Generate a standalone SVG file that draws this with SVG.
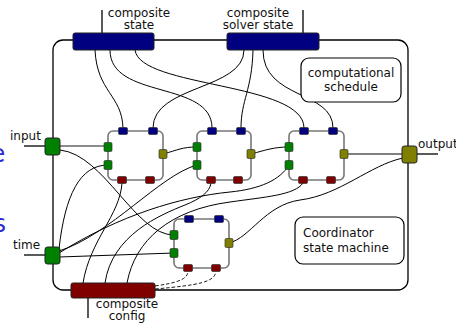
<svg xmlns="http://www.w3.org/2000/svg" width="456" height="329" viewBox="0 0 456 329">
  <style>
    text { font-family: "DejaVu Sans", "Liberation Sans", sans-serif; font-size: 12px; fill: #111; }
    .mid { text-anchor: middle; }
    .side { font-size: 24px; fill: #2b2bd0; }
    .frame { fill: none; stroke: #000; stroke-width: 1.3; }
    .wire { fill: none; stroke: #000; stroke-width: 1; }
    .gwire { fill: none; stroke: #666; stroke-width: 1.4; }
    .dash { fill: none; stroke: #000; stroke-width: 0.9; stroke-dasharray: 3.5 2; }
    .tick { stroke: #000; stroke-width: 1.3; }
    .block { fill: none; stroke: #777; stroke-width: 1.6; }
    .box { stroke: #222; stroke-width: 1; }
    .port { stroke: #333; stroke-width: 0.7; }
    .navy { fill: #000080; }
    .grn { fill: #008000; }
    .olv { fill: #808000; }
    .mar { fill: #800000; }
    .note { fill: #fff; stroke: #000; stroke-width: 1.2; }
  </style>
  <defs>
    <rect id="ph" class="port" x="-4.5" y="-3.5" width="9" height="7" rx="1.3"/>
    <rect id="pv" class="port" x="-4" y="-4.5" width="8" height="9" rx="1.3"/>
  </defs>

  <!-- clipped side text at the left border -->
  <text class="side" x="-9.5" y="162">e</text>
  <text class="side" x="-6.5" y="232">s</text>

  <!-- coordinator frame -->
  <rect class="frame" x="53" y="40" width="355" height="250" rx="10"/>

  <!-- external leads -->
  <line class="tick" x1="102" y1="10" x2="102" y2="33"/>
  <line class="tick" x1="303" y1="10" x2="303" y2="33"/>
  <line class="tick" x1="88" y1="298" x2="88" y2="318"/>
  <line class="tick" x1="24" y1="146" x2="45" y2="146"/>
  <line class="tick" x1="24" y1="255" x2="45" y2="255"/>
  <line class="tick" x1="417" y1="154" x2="438" y2="154"/>

  <g id="connectors">
    <!-- state ports -->
    <path class="wire" d="M95,50 C97,92 122,95 123,128"/>
    <path class="wire" d="M110,50 C110,100 212,80 212,128"/>
    <path class="wire" d="M135,50 C140,88 304,82 304,128"/>
    <path class="wire" d="M244,50 C244,90 153,85 153,128"/>
    <path class="wire" d="M253,50 C252,90 241,100 241,128"/>
    <path class="wire" d="M263,50 C263,100 333,90 333,128"/>
    <!-- data flow -->
    <path class="gwire" d="M60,146 H108"/>
    <path class="wire" d="M163,154 C178,150 182,147 197,147"/>
    <path class="wire" d="M251,154 C266,150 274,147 289,147"/>
    <path class="wire" d="M344,154 H402"/>
    <path class="wire" d="M60,150 C105,155 135,235 174,235"/>
    <!-- time -->
    <path class="wire" d="M59,249 C65,195 80,165 108,165"/>
    <path class="wire" d="M59,251 C110,235 160,175 197,165"/>
    <path class="wire" d="M59,253 C120,215 180,197 230,192 C260,189 280,180 289,165"/>
    <path class="wire" d="M59,257 L174,253"/>
    <!-- config -->
    <path class="wire" d="M83,283 C90,240 120,215 122,183"/>
    <path class="wire" d="M105,283 C112,235 160,215 185,205 C200,199 210,192 211,183"/>
    <path class="wire" d="M127,283 C135,240 170,210 230,202 C265,197 295,195 303,183"/>
    <path class="dash" d="M155,286 C175,283 188,280 188,271"/>
    <path class="dash" d="M155,289 C200,285 215,282 216,271"/>
    <!-- sub-coordinator output -->
    <path class="wire" d="M229,243 C250,238 265,205 300,200 C340,195 370,165 403,158"/>
  </g>

  <g id="composite-state">
    <rect class="box navy" x="73" y="33" width="81" height="17" rx="2"/>
    <text class="mid" x="139" y="17">composite</text>
    <text class="mid" x="139" y="29">state</text>
  </g>
  <g id="composite-solver-state">
    <rect class="box navy" x="227" y="33" width="92" height="17" rx="2"/>
    <text class="mid" x="258" y="17">composite</text>
    <text class="mid" x="258" y="29">solver state</text>
  </g>
  <g id="composite-config">
    <rect class="box mar" x="71" y="283" width="84" height="15" rx="2"/>
    <text class="mid" x="127" y="308">composite</text>
    <text class="mid" x="127" y="320">config</text>
  </g>
  <g id="input">
    <rect class="box grn" x="45" y="138" width="15" height="17" rx="2.5"/>
    <text x="10" y="140">input</text>
  </g>
  <g id="time">
    <rect class="box grn" x="45" y="247" width="15" height="17" rx="2.5"/>
    <text x="13" y="249">time</text>
  </g>
  <g id="output">
    <rect class="box olv" x="402" y="146" width="15" height="17" rx="2.5"/>
    <text x="418" y="148">output</text>
  </g>
  <g id="computational-schedule">
    <rect class="note" x="301" y="58" width="100" height="44" rx="8"/>
    <text class="mid" x="351" y="77">computational</text>
    <text class="mid" x="351" y="91">schedule</text>
  </g>
  <g id="coordinator-state-machine">
    <rect class="note" x="295" y="217" width="109" height="47" rx="8"/>
    <text x="303" y="237">Coordinator</text>
    <text x="303" y="252">state machine</text>
  </g>

  <g id="block-a">
    <rect class="block" x="108" y="131" width="55" height="49" rx="5"/>
    <use href="#ph" class="navy" x="123" y="131"/>
    <use href="#ph" class="navy" x="153" y="131"/>
    <use href="#pv" class="grn" x="108" y="147"/>
    <use href="#pv" class="grn" x="108" y="165"/>
    <use href="#pv" class="olv" x="163" y="154"/>
    <use href="#ph" class="mar" x="122" y="180"/>
    <use href="#ph" class="mar" x="150" y="180"/>
  </g>
  <g id="block-b">
    <rect class="block" x="197" y="131" width="54" height="49" rx="5"/>
    <use href="#ph" class="navy" x="212" y="131"/>
    <use href="#ph" class="navy" x="241" y="131"/>
    <use href="#pv" class="grn" x="197" y="147"/>
    <use href="#pv" class="grn" x="197" y="165"/>
    <use href="#pv" class="olv" x="251" y="154"/>
    <use href="#ph" class="mar" x="211" y="180"/>
    <use href="#ph" class="mar" x="238" y="180"/>
  </g>
  <g id="block-c">
    <rect class="block" x="289" y="131" width="55" height="49" rx="5"/>
    <use href="#ph" class="navy" x="304" y="131"/>
    <use href="#ph" class="navy" x="333" y="131"/>
    <use href="#pv" class="grn" x="289" y="147"/>
    <use href="#pv" class="grn" x="289" y="165"/>
    <use href="#pv" class="olv" x="344" y="154"/>
    <use href="#ph" class="mar" x="303" y="180"/>
    <use href="#ph" class="mar" x="331" y="180"/>
  </g>
  <g id="block-d">
    <rect class="block" x="174" y="219" width="55" height="49" rx="5"/>
    <use href="#ph" class="navy" x="189" y="219"/>
    <use href="#ph" class="navy" x="219" y="219"/>
    <use href="#pv" class="grn" x="174" y="235"/>
    <use href="#pv" class="grn" x="174" y="253"/>
    <use href="#pv" class="olv" x="229" y="243"/>
    <use href="#ph" class="mar" x="188" y="268"/>
    <use href="#ph" class="mar" x="216" y="268"/>
  </g>
</svg>
